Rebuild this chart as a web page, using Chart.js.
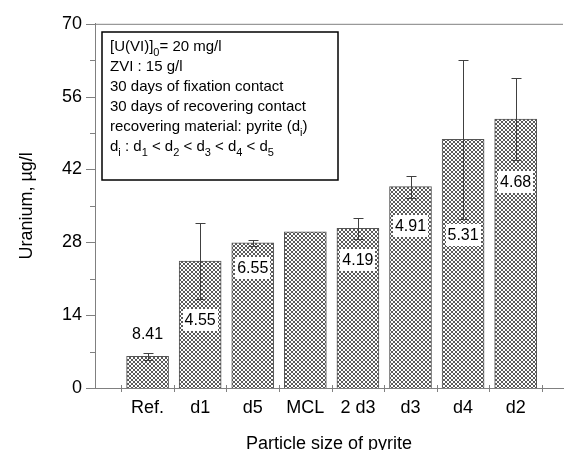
<!DOCTYPE html>
<html><head><meta charset="utf-8">
<script src="https://cdn.jsdelivr.net/npm/chart.js@4/dist/chart.umd.min.js"></script>
<style>html,body{margin:0;padding:0;background:#fff}</style>
</head><body>
<canvas id="c" width="565" height="450"></canvas>
<script>
const categories = ['Ref.','d1','d5','MCL','2 d3','d3','d4','d2'];
const uranium = [6.1, 24.4, 27.9, 30.0, 30.7, 38.7, 47.8, 51.7];
const errors = [0.7, 7.3, 0.6, 0, 2.0, 2.1, 15.3, 7.8];
const barLabels = ['8.41','4.55','6.55','','4.19','4.91','5.31','4.68'];
const yMajorTicks = [0, 14, 28, 42, 56, 70];
const infoLines = [
  [['[U(VI)]'],['0',1],['= 20 mg/l']],
  [['ZVI : 15 g/l']],
  [['30 days of fixation contact']],
  [['30 days of recovering contact']],
  [['recovering material: pyrite (d'],['i',1],[')']],
  [['d'],['i',1],[' : d'],['1',1],[' < d'],['2',1],[' < d'],['3',1],[' < d'],['4',1],[' < d'],['5',1]]
];

const FONT = '"Liberation Sans", Arial, sans-serif';
const canvas = document.getElementById('c');
const ctx0 = canvas.getContext('2d');

function makeHatch(){
  const p = document.createElement('canvas'); p.width = 4; p.height = 4;
  const g = p.getContext('2d');
  g.fillStyle = '#fff'; g.fillRect(0,0,4,4);
  g.fillStyle = '#5a5a5a';
  [[0,0],[1,1],[2,2],[3,3],[3,0],[2,1],[1,2],[0,3]].forEach(([a,b]) => g.fillRect(a,b,1,1));
  return ctx0.createPattern(p, 'repeat');
}

// label pixel offsets: positive = below lower error end, negative = above upper error end
const labelOffsets = [-19, 21, 22, 0, 21, 28, 16, 22];

const decor = {
  id: 'decor',
  afterDatasetsDraw(chart) {
    const {ctx, chartArea: a, scales: {x, y}} = chart;
    ctx.save();
    const line = (x1,y1,x2,y2) => { ctx.beginPath(); ctx.moveTo(x1,y1); ctx.lineTo(x2,y2); ctx.stroke(); };
    ctx.strokeStyle = '#808080'; ctx.lineWidth = 1;
    line(a.left, a.top + 0.5, a.right, a.top + 0.5);
    for (let v = 0; v <= 70; v += 7) {
      const py = Math.round(y.getPixelForValue(v)) + 0.5;
      const len = yMajorTicks.includes(v) ? 9 : 5;
      line(a.left - len, py, a.left, py);
    }
    for (let i = 0; i <= categories.length; i++) {
      const px = Math.round(x.getPixelForValue(i + 0.5)) + 0.5;
      line(px, a.bottom - 3, px, a.bottom + 4);
    }
    ctx.strokeStyle = '#404040';
    uranium.forEach((v, i) => {
      const e = errors[i];
      if (!e) return;
      const px = Math.round(x.getPixelForValue(i + 1)) + 0.5;
      const hi = Math.round(y.getPixelForValue(v + e)) + 0.5;
      const lo = Math.round(y.getPixelForValue(v - e)) + 0.5;
      line(px, hi, px, lo);
      line(px - 5, hi, px + 5, hi);
      line(px - 5, lo, px + 5, lo);
    });
    ctx.font = '16px ' + FONT;
    ctx.textAlign = 'center'; ctx.textBaseline = 'middle';
    barLabels.forEach((t, i) => {
      if (!t) return;
      const v = uranium[i], e = errors[i], off = labelOffsets[i];
      const px = x.getPixelForValue(i + 1);
      const py = off < 0 ? y.getPixelForValue(v + e) + off : y.getPixelForValue(v - e) + off;
      const w = ctx.measureText(t).width + 4;
      ctx.fillStyle = '#fff';
      ctx.fillRect(Math.round(px - w/2), Math.round(py - 11), Math.round(w), 22);
      ctx.fillStyle = '#000';
      ctx.fillText(t, px, py + 1);
    });
    const bx = 102, by = 32, bw = 236, bh = 148;
    ctx.fillStyle = '#fff';
    ctx.fillRect(bx, by, bw, bh);
    ctx.strokeStyle = '#000'; ctx.lineWidth = 1.5;
    ctx.strokeRect(bx, by, bw, bh);
    ctx.textAlign = 'left'; ctx.textBaseline = 'alphabetic';
    ctx.fillStyle = '#000';
    infoLines.forEach((parts, li) => {
      let cx = bx + 8;
      const base = by + 19 + li * 20;
      parts.forEach(([t, sub]) => {
        ctx.font = (sub ? '11px ' : '15px ') + FONT;
        ctx.fillText(t, cx, sub ? base + 5 : base);
        cx += ctx.measureText(t).width;
      });
    });
    ctx.restore();
  }
};

new Chart(canvas, {
  type: 'bar',
  data: {
    datasets: [{
      data: uranium.map((v, i) => ({x: i + 1, y: v})),
      backgroundColor: makeHatch(),
      borderColor: '#555',
      borderWidth: 1,
      barThickness: 42
    }]
  },
  options: {
    responsive: false,
    animation: false,
    layout: {padding: {left: 0, right: 2, top: 23, bottom: 0}},
    plugins: {legend: {display: false}, tooltip: {enabled: false}},
    scales: {
      x: {
        type: 'linear', min: 0, max: 8.9, offset: false,
        afterBuildTicks: s => { s.ticks = categories.map((c, i) => ({value: i + 1})); },
        afterFit: s => { s.height = 62; },
        ticks: {
          autoSkip: false, maxRotation: 0, padding: 9,
          color: '#000', font: {family: FONT, size: 18},
          callback: v => categories[v - 1]
        },
        grid: {display: false, drawTicks: false, offset: false},
        border: {display: true, color: '#808080'},
        title: {display: true, text: 'Particle size of pyrite', color: '#000',
          font: {family: FONT, size: 18, lineHeight: 1}, padding: {top: 0, bottom: -3}}
      },
      y: {
        min: 0, max: 70,
        afterBuildTicks: s => { s.ticks = yMajorTicks.map(v => ({value: v})); },
        afterFit: s => { s.width = 95; },
        ticks: {padding: 13, color: '#000', font: {family: FONT, size: 18}},
        grid: {display: false, drawTicks: false},
        border: {display: true, color: '#808080'},
        title: {display: true, text: 'Uranium, µg/l', color: '#000',
          font: {family: FONT, size: 18, lineHeight: 1.2}, padding: {top: 16, bottom: 0}}
      }
    }
  },
  plugins: [decor]
});
</script>
</body></html>
